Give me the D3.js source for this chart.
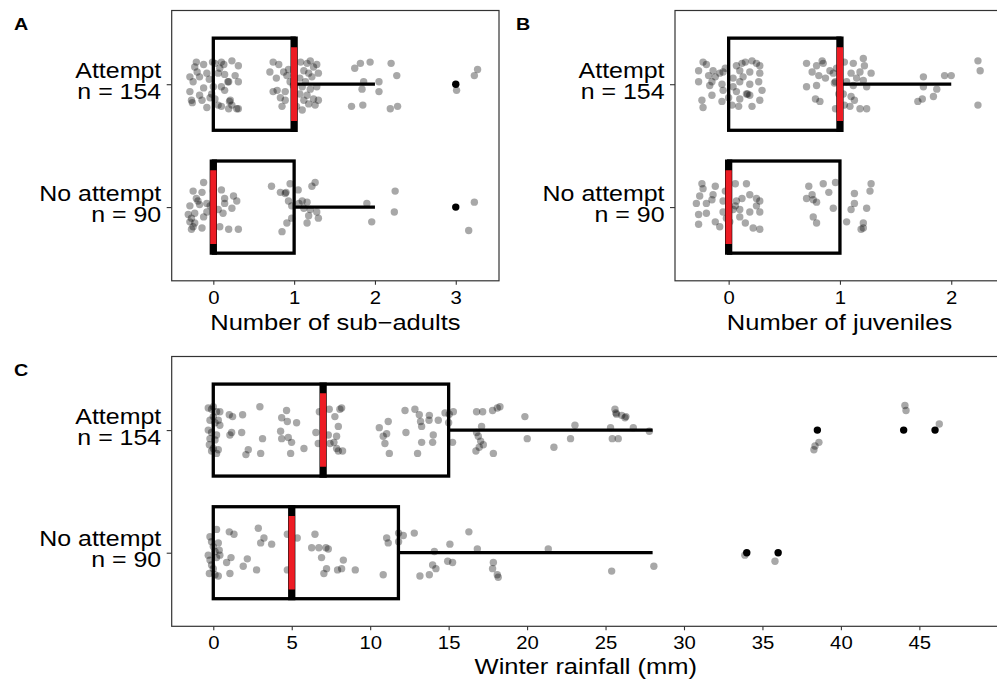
<!DOCTYPE html>
<html>
<head>
<meta charset="utf-8">
<script src="https://cdn.jsdelivr.net/npm/d3@7"></script>
<style>
  body { margin: 0; background: #fff; }
  svg { display: block; font-family: "Liberation Sans", Arial, Helvetica, sans-serif; }
</style>
</head>
<body>
<svg id="chart" width="997" height="687"></svg>
<script>
// ---- groups ----
const groups = ["Attempt", "No attempt"];
const groupN = [154, 90];

// ---- A: number of sub-adults ----
const subAdultTicks = [0, 1, 2, 3];
const subAdultDomain = [-0.515, 3.535];
const subAdultQ1 = [0, 0];
const subAdultMedian = [1, 0];
const subAdultQ3 = [1, 1];
const subAdultUpper = [2, 2];
const subAdultOutliers = [[3], [3]];
// jittered observations: [jittered value, vertical jitter in group units]
const subAdultAttempt = [
  [-0.21,-0.18],[-0.12,-0.16],[-0.01,-0.18],[0.02,-0.17],[0.10,-0.18],[0.13,-0.16],[0.23,-0.19],[0.31,-0.15],[-0.23,-0.14],
  [-0.29,-0.06],[-0.20,-0.10],[-0.17,-0.06],[-0.08,-0.09],[-0.05,-0.04],[0.06,-0.09],[0.08,-0.13],[0.14,-0.08],[0.19,-0.02],
  [0.27,-0.07],[0.31,-0.02],[-0.25,-0.02],[-0.29,0.06],[-0.12,0.03],[0.00,0.02],[0.10,0.02],[0.14,0.05],[-0.17,0.09],[-0.02,0.08],
  [-0.27,0.13],[-0.26,0.15],[-0.14,0.13],[-0.04,0.11],[0.02,0.12],[0.06,0.17],[0.10,0.18],[0.21,0.13],[0.23,0.17],[0.29,0.20],
  [-0.08,0.19],[0.31,0.20],[0.19,0.20],[0.18,-0.02],[0.20,0.14],
  [0.74,-0.18],[0.81,-0.16],[0.70,-0.10],[0.78,-0.05],[0.87,-0.10],[0.93,-0.12],[0.91,-0.07],[0.79,0.05],[0.89,0.06],[0.83,0.11],
  [0.89,0.13],[0.85,0.18],[0.74,0.06],[1.08,-0.18],[1.16,-0.17],[1.20,-0.19],[1.28,-0.16],[1.24,-0.14],[1.12,-0.11],[1.18,-0.09],
  [1.30,-0.09],[1.22,-0.06],[1.07,-0.05],[1.14,-0.02],[1.10,0.02],[1.20,0.04],[1.28,0.02],[1.07,0.08],[1.16,0.09],[1.24,0.12],
  [1.30,0.13],[1.12,0.13],[1.18,0.16],[1.26,0.17],[1.03,0.18],[1.10,0.21],[0.95,-0.02],[0.99,0.01],
  [1.82,-0.17],[1.94,-0.18],[1.75,-0.13],[2.20,-0.17],[2.27,-0.07],[2.05,-0.02],[1.84,0.04],[2.05,0.06],[1.85,0.17],[1.71,0.18],
  [2.19,0.20],[2.28,0.18],[1.86,-0.02],
  [3.01,0.05],[3.23,-0.07],[3.27,-0.12]
];
const subAdultNoAttempt = [
  [-0.12,-0.20],[-0.25,-0.13],[-0.14,-0.12],[0.10,-0.14],[0.00,-0.13],[0.14,-0.07],[0.25,-0.09],[0.29,-0.05],[-0.19,-0.05],
  [-0.08,-0.03],[-0.29,-0.01],[-0.17,-0.02],[0.14,-0.03],[0.23,0.01],[0.12,0.05],[-0.23,0.05],[-0.31,0.06],[-0.12,0.08],
  [-0.08,0.04],[-0.29,0.12],[-0.23,0.13],[-0.25,0.16],[-0.14,0.17],[0.08,0.16],[0.19,0.18],[0.31,0.18],[-0.27,0.18],
  [-0.04,-0.01],[0.06,0.02],[-0.21,-0.07],[-0.27,0.09],
  [0.72,-0.17],[0.83,-0.12],[0.89,-0.11],[0.95,-0.19],[1.05,-0.14],[1.26,-0.20],[1.22,-0.17],[0.93,-0.05],[0.97,-0.01],
  [1.10,-0.05],[1.16,-0.04],[1.12,0.01],[1.20,0.02],[1.28,0.04],[1.30,0.09],[1.18,0.07],[1.16,0.13],[0.97,0.09],[0.91,0.13],
  [0.85,0.20],[0.90,-0.12],[1.06,-0.03],
  [1.90,-0.03],[2.25,-0.13],[2.24,0.04],[1.96,0.12],
  [3.23,-0.04],[3.16,0.19]
];

// ---- B: number of juveniles ----
const juvenileTicks = [0, 1, 2];
const juvenileDomain = [-0.482, 2.474];
const juvenileQ1 = [0, 0];
const juvenileMedian = [1, 0];
const juvenileQ3 = [1, 1];
const juvenileUpper = [2, 1];
const juvenileOutliers = [[], []];
const juvenileAttempt = [
  [-0.23,-0.18],[-0.20,-0.16],[-0.27,-0.11],[-0.18,-0.07],[-0.14,-0.11],[-0.05,-0.10],[-0.12,-0.06],[-0.08,-0.09],[-0.03,-0.13],
  [0.07,-0.15],[0.12,-0.17],[0.15,-0.18],[0.21,-0.19],[0.25,-0.17],[0.28,-0.15],[0.10,-0.11],[0.19,-0.10],[0.28,-0.09],
  [0.13,-0.06],[0.04,-0.05],[-0.27,-0.02],[-0.17,0.01],[-0.15,-0.02],[-0.06,0.00],[-0.05,0.05],[0.04,0.02],[0.10,-0.02],
  [0.19,0.00],[0.27,-0.02],[0.30,0.05],[0.16,0.08],[0.19,0.09],[0.10,0.12],[0.07,0.06],[-0.24,0.13],[-0.15,0.09],
  [-0.06,0.14],[0.03,0.17],[0.21,0.18],[0.28,0.13],[-0.23,0.19],[0.09,0.18],[0.00,0.11],[0.17,0.08],
  [0.70,-0.17],[0.75,-0.10],[0.79,-0.15],[0.84,-0.19],[0.85,-0.17],[0.81,-0.07],[0.87,-0.05],[0.70,0.02],[0.79,0.01],
  [0.78,0.12],[0.82,0.14],[0.94,-0.09],[0.96,-0.02],[0.97,-0.13],[0.91,-0.11],[0.96,0.20],[1.04,-0.18],[1.12,-0.17],
  [1.21,-0.21],[1.22,-0.15],[1.18,-0.10],[1.28,-0.09],[1.10,-0.09],[1.15,-0.05],[1.06,-0.02],[1.21,-0.03],[1.12,0.01],
  [1.24,0.02],[1.03,0.08],[1.10,0.10],[1.13,0.13],[1.04,0.17],[1.09,0.18],[1.18,0.20],[1.24,0.20],[0.99,0.08],[0.95,-0.01],
  [1.75,-0.06],[1.94,-0.07],[2.00,-0.07],[1.87,0.04],[1.75,0.02],[1.74,0.12],[1.70,0.14],[1.84,0.10],
  [2.24,-0.19],[2.26,-0.11],[2.24,0.17]
];
const juvenileNoAttempt = [
  [-0.24,-0.19],[-0.12,-0.17],[-0.23,-0.15],[-0.14,-0.10],[-0.26,-0.09],[-0.03,-0.13],[0.06,-0.19],[0.16,-0.19],[0.19,-0.10],
  [-0.15,-0.06],[-0.29,-0.03],[-0.20,-0.03],[-0.05,-0.05],[0.07,-0.05],[0.12,-0.07],[0.25,-0.07],[0.28,-0.05],[-0.27,0.06],
  [-0.20,0.05],[-0.05,0.04],[0.06,-0.01],[0.10,0.02],[0.19,0.04],[0.28,0.04],[0.25,-0.01],[-0.27,0.14],[-0.08,0.16],
  [0.01,0.12],[0.10,0.08],[0.15,0.13],[0.22,0.17],[0.28,0.18],[0.04,0.02],[-0.12,0.12],[-0.02,0.09],
  [0.72,-0.17],[0.85,-0.19],[0.96,-0.20],[0.90,-0.12],[0.75,-0.10],[0.76,-0.06],[0.79,-0.04],[0.94,0.01],[1.13,-0.11],
  [1.28,-0.19],[1.27,-0.13],[1.24,0.01],[1.13,-0.03],[1.06,0.12],[1.10,0.02],[1.21,0.13],[1.19,0.18],[0.76,0.08],
  [0.79,0.13],[0.70,-0.07],[1.21,0.17]
];

// ---- C: winter rainfall (mm) ----
const rainTicks = [0, 5, 10, 15, 20, 25, 30, 35, 40, 45];
const rainDomain = [-2.65, 50.14];
const rainQ1 = [0, 0];
const rainMedian = [7, 5];
const rainQ3 = [15, 11.8];
const rainUpper = [28, 28];
const rainOutliers = [[38.5, 44, 46], [34, 36]];
const rainAttempt = [
  [-0.32,-0.18],[-0.11,-0.17],[0.21,-0.15],[0.00,-0.11],[-0.21,-0.08],[0.32,-0.08],[0.11,-0.06],[0.42,-0.04],[-0.32,0.00],
  [-0.11,0.02],[0.21,0.04],[-0.21,0.07],[0.11,0.08],[-0.25,0.12],[0.00,0.15],[0.32,0.16],[-0.11,0.17],[0.21,0.19],
  [0.42,-0.15],[0.00,-0.19],
  [1.02,-0.125],[1.23,-0.11],[1.87,-0.125],[1.17,0.02],[1.06,0.04],[1.81,0.02],[2.23,0.16],[2.08,0.20],[2.97,-0.19],
  [3.14,0.07],[3.02,0.19],[4.36,-0.10],[4.67,-0.16],[4.72,-0.07],[5.31,-0.06],[4.29,0.01],[4.36,0.07],[4.78,0.06],
  [4.99,0.10],[5.78,0.15],[4.93,0.19],[6.76,-0.15],[6.54,0.02],[6.69,0.11],[7.39,-0.17],[7.33,0.04],[7.44,0.11],
  [7.75,-0.11],[7.97,-0.03],[8.18,-0.18],[8.07,-0.17],[7.86,0.05],[7.86,0.15],[7.97,0.17],[8.24,0.17],[7.69,0.10],
  [10.58,-0.02],[11.15,-0.07],[11.05,0.03],[10.83,0.05],[10.94,0.11],[11.22,0.19],[12.22,-0.16],[12.85,-0.17],
  [13.13,-0.125],[13.21,-0.07],[13.28,-0.03],[13.77,-0.12],[13.75,-0.08],[14.34,-0.08],[14.02,0.04],[13.98,0.10],
  [13.28,0.10],[12.28,0.02],[13.02,0.19],[14.77,-0.14],[15.04,-0.13],[15.30,-0.15],[15.00,-0.06],[15.25,0.10],
  [16.78,-0.15],[17.17,-0.15],[17.10,-0.03],[16.78,0.02],[16.89,0.05],[17.04,0.09],[17.21,0.12],[16.95,0.14],
  [16.74,0.17],[17.85,0.19],[17.80,-0.16],[18.10,-0.18],[18.27,-0.19],[19.86,-0.11],[20.01,0.07],[21.71,0.14],
  [22.77,0.07],[23.05,-0.04],
  [25.60,-0.17],[25.66,-0.14],[25.70,-0.13],[26.03,-0.12],[26.24,-0.10],[26.30,-0.11],[25.32,-0.02],[26.77,-0.02],
  [27.79,0.01],[25.43,0.07],[25.81,0.07],
  [38.28,0.16],[38.35,0.13],[38.60,0.10],[44.08,-0.20],[44.15,-0.16],[46.27,-0.05]
];
const rainNoAttempt = [
  [0.21,-0.19],[-0.21,-0.13],[-0.11,-0.09],[0.32,-0.08],[0.00,-0.05],[-0.32,0.02],[0.11,-0.01],[0.38,-0.02],[-0.21,0.06],
  [0.21,0.04],[-0.11,0.10],[-0.25,0.17],[0.11,0.18],[0.32,0.19],[0.00,0.13],[0.42,0.02],
  [1.02,-0.17],[1.32,-0.15],[1.13,0.04],[0.85,0.08],[1.06,0.17],[1.91,0.11],[2.17,0.05],[2.76,0.14],[2.87,-0.20],
  [3.23,-0.12],[3.02,-0.08],[3.72,-0.07],[4.72,-0.15],[5.35,-0.12],[4.72,0.14],[6.48,-0.15],[6.27,-0.04],[6.73,-0.04],
  [7.18,-0.04],[7.33,-0.03],[6.90,0.04],[7.22,0.13],[7.05,0.17],[7.92,0.14],[8.29,0.06],[8.18,0.13],[9.05,0.14],
  [10.83,0.18],[11.05,-0.12],[11.15,-0.08],[11.81,-0.16],[12.11,-0.14],[11.81,-0.09],[12.81,-0.16],[13.17,0.19],
  [13.77,0.18],[13.98,0.10],[14.19,0.13],[14.09,-0.01],[14.94,0.07],[15.25,0.08],[15.08,-0.07],[16.29,-0.17],
  [16.83,-0.03],[17.85,0.08],[17.80,0.13],[18.10,0.18],[18.16,0.20],[21.35,-0.03],
  [25.39,0.15],[28.08,0.11],[33.88,0.02],[35.80,0.07]
];

// ---- drawing ----
const svg = d3.select("#chart");
const SX = 1.16;            // horizontal text stretch
const RED = "#ED1C24";

function stretchedText(g, x, y, str, size, anchor, weight) {
  return g.append("text")
    .attr("transform", `translate(${x},${y}) scale(${SX},1)`)
    .attr("text-anchor", anchor)
    .attr("font-size", size)
    .attr("font-weight", weight || "normal")
    .attr("fill", "#000")
    .text(str);
}

function drawPanel(p, idx) {
  const g = svg.append("g");
  const x = d3.scaleLinear().domain(p.domain).range([p.left, p.right]);
  const y = d3.scaleLinear().domain([0.4, 2.6]).range([p.top, p.bottom]);

  const clipId = "clip" + idx;
  svg.append("clipPath").attr("id", clipId)
    .append("rect").attr("x", p.left).attr("y", p.top)
    .attr("width", p.right - p.left).attr("height", p.bottom - p.top);

  const plot = g.append("g").attr("clip-path", `url(#${clipId})`);
  const boxHalf = 0.375, redHalf = 0.3;

  groups.forEach((name, i) => {
    const c = i + 1;
    // box
    plot.append("rect")
      .attr("x", x(p.q1[i])).attr("y", y(c - boxHalf))
      .attr("width", x(p.q3[i]) - x(p.q1[i]))
      .attr("height", y(c + boxHalf) - y(c - boxHalf))
      .attr("fill", "none").attr("stroke", "#000").attr("stroke-width", 3.3)
      .attr("stroke-linejoin", "miter");
    // upper whisker
    if (p.upper[i] > p.q3[i]) {
      plot.append("line")
        .attr("x1", x(p.q3[i])).attr("x2", x(p.upper[i]))
        .attr("y1", y(c)).attr("y2", y(c))
        .attr("stroke", "#000").attr("stroke-width", 3.3);
    }
  });

  // jittered observations
  groups.forEach((name, i) => {
    const c = i + 1;
    plot.append("g").selectAll("circle").data(p.points[i]).join("circle")
      .attr("cx", d => x(d[0]))
      .attr("cy", d => y(c + d[1]))
      .attr("r", 3.7)
      .attr("fill", "#000").attr("fill-opacity", 0.34);
    // outliers
    plot.append("g").selectAll("circle").data(p.outliers[i]).join("circle")
      .attr("cx", d => x(d)).attr("cy", y(c)).attr("r", 3.7).attr("fill", "#000");
  });

  // medians: black bar with red core
  groups.forEach((name, i) => {
    const c = i + 1;
    plot.append("line")
      .attr("x1", x(p.med[i])).attr("x2", x(p.med[i]))
      .attr("y1", y(c - boxHalf) - 1.6).attr("y2", y(c + boxHalf) + 1.6)
      .attr("stroke", "#000").attr("stroke-width", 7.3);
    plot.append("line")
      .attr("x1", x(p.med[i])).attr("x2", x(p.med[i]))
      .attr("y1", y(c - redHalf)).attr("y2", y(c + redHalf))
      .attr("stroke", RED).attr("stroke-width", 6.2);
  });

  // panel border
  g.append("rect")
    .attr("x", p.left).attr("y", p.top)
    .attr("width", p.right - p.left).attr("height", p.bottom - p.top)
    .attr("fill", "none").attr("stroke", "#333").attr("stroke-width", 1.2);

  // x axis
  const xa = g.append("g").attr("transform", `translate(0,${p.bottom})`)
    .call(d3.axisBottom(x).tickValues(p.ticks).tickFormat(d3.format("d"))
      .tickSize(4).tickPadding(6.3).tickSizeOuter(0));
  xa.attr("font-size", null).attr("font-family", null);
  xa.select(".domain").remove();
  xa.selectAll(".tick line").attr("stroke", "#333").attr("stroke-width", 1.1);
  xa.selectAll(".tick text")
    .attr("font-size", 17.5).attr("fill", "#000")
    .attr("transform", `scale(${SX},1)`);

  // y axis ticks
  const ya = g.append("g").attr("transform", `translate(${p.left},0)`)
    .call(d3.axisLeft(y).tickValues([1, 2]).tickSize(5).tickSizeOuter(0).tickFormat(""));
  ya.select(".domain").remove();
  ya.selectAll(".tick line").attr("stroke", "#333").attr("stroke-width", 1.1);

  // y labels: group name over its sample size, one two-line text per group
  groups.forEach((name, i) => {
    const cy = y(i + 1);
    const t = g.append("text")
      .attr("transform", `translate(${p.left - 10.5},${cy - 6.5}) scale(${SX},1)`)
      .attr("text-anchor", "end")
      .attr("font-size", 21.5)
      .attr("fill", "#000");
    t.append("tspan").attr("x", 0).attr("y", 0).text(name);
    t.append("tspan").attr("x", 0).attr("y", 21).text("n = " + groupN[i]);
  });

  // x title
  stretchedText(g, (p.left + p.right) / 2, p.bottom + p.titleGap, p.title, 22, "middle");

  // panel letter
  stretchedText(g, p.letterX, p.letterY, p.letter, 17, "start", "bold");
}

const panels = [
  { left: 171.7, right: 499, top: 10.5, bottom: 280.8, domain: subAdultDomain, ticks: subAdultTicks,
    q1: subAdultQ1, med: subAdultMedian, q3: subAdultQ3, upper: subAdultUpper, outliers: subAdultOutliers,
    points: [subAdultAttempt, subAdultNoAttempt], title: "Number of sub\u2212adults", titleGap: 49,
    letter: "A", letterX: 14, letterY: 30 },
  { left: 675, right: 1004, top: 10.5, bottom: 280.8, domain: juvenileDomain, ticks: juvenileTicks,
    q1: juvenileQ1, med: juvenileMedian, q3: juvenileQ3, upper: juvenileUpper, outliers: juvenileOutliers,
    points: [juvenileAttempt, juvenileNoAttempt], title: "Number of juveniles", titleGap: 49,
    letter: "B", letterX: 516, letterY: 30 },
  { left: 171.7, right: 1000, top: 356.5, bottom: 626.3, domain: rainDomain, ticks: rainTicks,
    q1: rainQ1, med: rainMedian, q3: rainQ3, upper: rainUpper, outliers: rainOutliers,
    points: [rainAttempt, rainNoAttempt], title: "Winter rainfall (mm)", titleGap: 48,
    letter: "C", letterX: 14, letterY: 375.5 }
];

panels.forEach((p, i) => drawPanel(p, i));
</script>
</body>
</html>
